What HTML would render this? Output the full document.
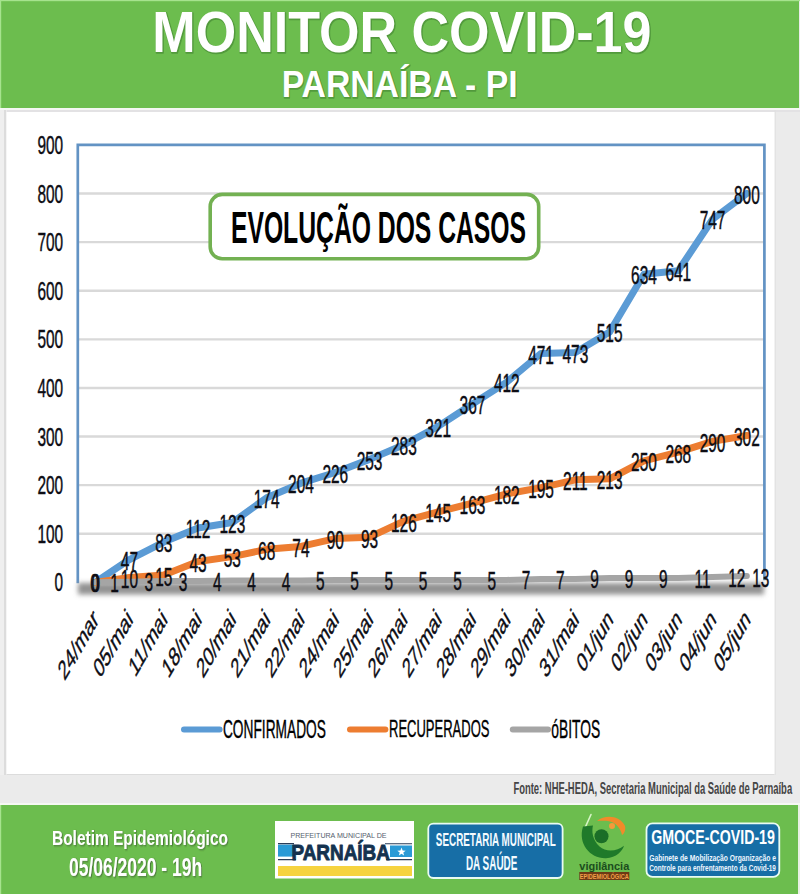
<!DOCTYPE html>
<html><head><meta charset="utf-8"><title>Monitor COVID-19 Parnaíba</title>
<style>
html,body{margin:0;padding:0;background:#ebebeb;}
body{width:800px;height:894px;overflow:hidden;position:relative;font-family:"Liberation Sans",sans-serif;}
svg{position:absolute;left:0;top:0;display:block;}
</style></head><body>
<svg width="800" height="894" viewBox="0 0 800 894" font-family="'Liberation Sans', sans-serif">
<defs>
 <filter id="hs" x="-5%" y="-20%" width="110%" height="140%"><feMorphology in="SourceAlpha" operator="dilate" radius="0.8"/><feOffset dx="0.6" dy="0.6"/><feGaussianBlur stdDeviation="0.5"/><feComponentTransfer><feFuncA type="linear" slope="0.6"/></feComponentTransfer><feFlood flood-color="#2f6a22"/><feComposite operator="in" in2="SourceAlpha"/></filter>
 <filter id="fs" x="-5%" y="-20%" width="110%" height="140%"><feGaussianBlur in="SourceAlpha" stdDeviation="0.8"/><feOffset dx="1" dy="1.2" result="b"/><feFlood flood-color="#3c5a30" flood-opacity="0.7"/><feComposite in2="b" operator="in"/><feMerge><feMergeNode/><feMergeNode in="SourceGraphic"/></feMerge></filter>
 <filter id="blur2" x="-5%" y="-100%" width="110%" height="300%"><feGaussianBlur stdDeviation="2.9"/></filter>
</defs>
<rect width="800" height="894" fill="#ebebeb"/>
<!-- header -->
<rect x="0" y="0" width="799" height="108" fill="#6cbd4e"/>
<rect x="0" y="0" width="800" height="1.2" fill="#a6e38e"/>
<rect x="0" y="0" width="1.2" height="108" fill="#a6e38e"/>
<rect x="0" y="108" width="800" height="2" fill="#f4f7f2"/>
<rect x="1.5" y="110" width="798.5" height="2" fill="#e3e2e4"/>
<rect x="0" y="110" width="7" height="665" fill="#efefef"/>
<rect x="4" y="110" width="2.2" height="665" fill="#dcdcdc"/>
<rect x="774.5" y="110" width="1.2" height="665" fill="#e0e0e0"/>
<!-- panel -->
<rect x="6.5" y="112" width="768" height="662.5" fill="#fff"/>
<rect x="6.5" y="774" width="768" height="1" fill="#dcdcdc"/>
<g transform="translate(0.7,0.8)"><text transform="translate(152.35,52.25) scale(0.9067,1)" font-size="57.39" font-weight="bold" fill="#3f7f30" stroke="#3f7f30" stroke-width="1.6" stroke-linejoin="round" opacity="0.55">MONITOR COVID-19</text></g>
<text transform="translate(152.35,52.25) scale(0.9067,1)" font-size="57.39" font-weight="bold" fill="#fff">MONITOR COVID-19</text>
<g transform="translate(0.7,0.8)"><text transform="translate(281.64,97.25) scale(0.9031,1)" font-size="37.33" font-weight="bold" fill="#3f7f30" stroke="#3f7f30" stroke-width="1.6" stroke-linejoin="round" opacity="0.55">PARNAÍBA - PI</text></g>
<text transform="translate(281.64,97.25) scale(0.9031,1)" font-size="37.33" font-weight="bold" fill="#fff">PARNAÍBA - PI</text>
<line x1="78.0" x2="764.0" y1="533.75" y2="533.75" stroke="#d9d9d9" stroke-width="2.4"/>
<line x1="78.0" x2="764.0" y1="485.15" y2="485.15" stroke="#d9d9d9" stroke-width="2.4"/>
<line x1="78.0" x2="764.0" y1="436.54" y2="436.54" stroke="#d9d9d9" stroke-width="2.4"/>
<line x1="78.0" x2="764.0" y1="387.93" y2="387.93" stroke="#d9d9d9" stroke-width="2.4"/>
<line x1="78.0" x2="764.0" y1="339.33" y2="339.33" stroke="#d9d9d9" stroke-width="2.4"/>
<line x1="78.0" x2="764.0" y1="290.72" y2="290.72" stroke="#d9d9d9" stroke-width="2.4"/>
<line x1="78.0" x2="764.0" y1="242.11" y2="242.11" stroke="#d9d9d9" stroke-width="2.4"/>
<line x1="78.0" x2="764.0" y1="193.50" y2="193.50" stroke="#d9d9d9" stroke-width="2.4"/>
<path d="M77.8,583.36 V144.90 H764.4 V580.36" fill="none" stroke="#6393c4" stroke-width="2.7"/>
<rect x="210.2" y="194.4" width="328.5" height="64.3" rx="12" fill="#fff" stroke="#73b152" stroke-width="3.6"/>
<text transform="translate(230.96,242.50) scale(0.5641,1)" font-size="43.80" font-weight="bold" fill="#000" >EVOLUÇÃO DOS CASOS</text>
<rect x="78.0" y="583" width="686.0" height="11.5" fill="#929292" filter="url(#blur2)"/>
<polyline points="95.15,582.36 129.45,559.51 163.75,542.02 198.05,527.92 232.35,522.57 266.65,497.78 300.95,483.20 335.25,472.51 369.55,459.38 403.85,444.80 438.15,426.33 472.45,403.97 506.75,382.10 541.05,353.42 575.35,352.45 609.65,332.03 643.95,274.19 678.25,270.79 712.55,219.27 746.85,193.50" fill="none" stroke="#5b9bd5" stroke-width="7" stroke-linejoin="round" stroke-linecap="round"/>
<polyline points="95.15,582.36 129.45,577.50 163.75,575.07 198.05,561.46 232.35,556.60 266.65,549.31 300.95,546.39 335.25,538.61 369.55,537.16 403.85,521.12 438.15,511.88 472.45,503.13 506.75,493.90 541.05,487.58 575.35,479.80 609.65,478.83 643.95,460.84 678.25,452.09 712.55,441.40 746.85,435.57" fill="none" stroke="#ed7d31" stroke-width="7" stroke-linejoin="round" stroke-linecap="round"/>
<polyline points="95.15,582.36 129.45,581.87 163.75,580.90 198.05,580.90 232.35,580.42 266.65,580.42 300.95,580.42 335.25,579.93 369.55,579.93 403.85,579.93 438.15,579.93 472.45,579.93 506.75,579.93 541.05,578.96 575.35,578.96 609.65,577.99 643.95,577.99 678.25,577.99 712.55,577.01 746.85,576.04" fill="none" stroke="#a5a5a5" stroke-width="6" stroke-linejoin="round" stroke-linecap="round"/>
<g font-family="'Liberation Sans', sans-serif" font-size="26.60" fill="#0d0d14" stroke="#0d0d14" stroke-width="0.45">
<text transform="translate(63.20,591.36) scale(0.58,1)" text-anchor="end">0</text>
<text transform="translate(63.20,542.75) scale(0.58,1)" text-anchor="end">100</text>
<text transform="translate(63.20,494.15) scale(0.58,1)" text-anchor="end">200</text>
<text transform="translate(63.20,445.54) scale(0.58,1)" text-anchor="end">300</text>
<text transform="translate(63.20,396.93) scale(0.58,1)" text-anchor="end">400</text>
<text transform="translate(63.20,348.33) scale(0.58,1)" text-anchor="end">500</text>
<text transform="translate(63.20,299.72) scale(0.58,1)" text-anchor="end">600</text>
<text transform="translate(63.20,251.11) scale(0.58,1)" text-anchor="end">700</text>
<text transform="translate(63.20,202.50) scale(0.58,1)" text-anchor="end">800</text>
<text transform="translate(63.20,153.90) scale(0.58,1)" text-anchor="end">900</text>
<text transform="translate(129.45,569.71) scale(0.58,1)" text-anchor="middle">47</text>
<text transform="translate(163.75,552.22) scale(0.58,1)" text-anchor="middle">83</text>
<text transform="translate(198.05,538.12) scale(0.58,1)" text-anchor="middle">112</text>
<text transform="translate(232.35,532.77) scale(0.58,1)" text-anchor="middle">123</text>
<text transform="translate(266.65,507.98) scale(0.58,1)" text-anchor="middle">174</text>
<text transform="translate(300.95,493.40) scale(0.58,1)" text-anchor="middle">204</text>
<text transform="translate(335.25,482.71) scale(0.58,1)" text-anchor="middle">226</text>
<text transform="translate(369.55,469.58) scale(0.58,1)" text-anchor="middle">253</text>
<text transform="translate(403.85,455.00) scale(0.58,1)" text-anchor="middle">283</text>
<text transform="translate(438.15,436.53) scale(0.58,1)" text-anchor="middle">321</text>
<text transform="translate(472.45,414.17) scale(0.58,1)" text-anchor="middle">367</text>
<text transform="translate(506.75,392.30) scale(0.58,1)" text-anchor="middle">412</text>
<text transform="translate(541.05,363.62) scale(0.58,1)" text-anchor="middle">471</text>
<text transform="translate(575.35,362.65) scale(0.58,1)" text-anchor="middle">473</text>
<text transform="translate(609.65,342.23) scale(0.58,1)" text-anchor="middle">515</text>
<text transform="translate(643.95,284.39) scale(0.58,1)" text-anchor="middle">634</text>
<text transform="translate(678.25,280.99) scale(0.58,1)" text-anchor="middle">641</text>
<text transform="translate(712.55,229.47) scale(0.58,1)" text-anchor="middle">747</text>
<text transform="translate(746.85,203.70) scale(0.58,1)" text-anchor="middle">800</text>
<text transform="translate(129.45,588.00) scale(0.58,1)" text-anchor="middle">10</text>
<text transform="translate(163.75,585.57) scale(0.58,1)" text-anchor="middle">15</text>
<text transform="translate(198.05,571.96) scale(0.58,1)" text-anchor="middle">43</text>
<text transform="translate(232.35,567.10) scale(0.58,1)" text-anchor="middle">53</text>
<text transform="translate(266.65,559.81) scale(0.58,1)" text-anchor="middle">68</text>
<text transform="translate(300.95,556.89) scale(0.58,1)" text-anchor="middle">74</text>
<text transform="translate(335.25,549.11) scale(0.58,1)" text-anchor="middle">90</text>
<text transform="translate(369.55,547.66) scale(0.58,1)" text-anchor="middle">93</text>
<text transform="translate(403.85,531.62) scale(0.58,1)" text-anchor="middle">126</text>
<text transform="translate(438.15,522.38) scale(0.58,1)" text-anchor="middle">145</text>
<text transform="translate(472.45,513.63) scale(0.58,1)" text-anchor="middle">163</text>
<text transform="translate(506.75,504.40) scale(0.58,1)" text-anchor="middle">182</text>
<text transform="translate(541.05,498.08) scale(0.58,1)" text-anchor="middle">195</text>
<text transform="translate(575.35,490.30) scale(0.58,1)" text-anchor="middle">211</text>
<text transform="translate(609.65,489.33) scale(0.58,1)" text-anchor="middle">213</text>
<text transform="translate(643.95,471.34) scale(0.58,1)" text-anchor="middle">250</text>
<text transform="translate(678.25,462.59) scale(0.58,1)" text-anchor="middle">268</text>
<text transform="translate(712.55,451.90) scale(0.58,1)" text-anchor="middle">290</text>
<text transform="translate(746.85,446.07) scale(0.58,1)" text-anchor="middle">302</text>
<text transform="translate(114.45,592.37) scale(0.58,1)" text-anchor="middle">1</text>
<text transform="translate(148.75,591.40) scale(0.58,1)" text-anchor="middle">3</text>
<text transform="translate(183.05,591.40) scale(0.58,1)" text-anchor="middle">3</text>
<text transform="translate(217.35,590.92) scale(0.58,1)" text-anchor="middle">4</text>
<text transform="translate(251.65,590.92) scale(0.58,1)" text-anchor="middle">4</text>
<text transform="translate(285.95,590.92) scale(0.58,1)" text-anchor="middle">4</text>
<text transform="translate(320.25,590.43) scale(0.58,1)" text-anchor="middle">5</text>
<text transform="translate(354.55,590.43) scale(0.58,1)" text-anchor="middle">5</text>
<text transform="translate(388.85,590.43) scale(0.58,1)" text-anchor="middle">5</text>
<text transform="translate(423.15,590.43) scale(0.58,1)" text-anchor="middle">5</text>
<text transform="translate(457.45,590.43) scale(0.58,1)" text-anchor="middle">5</text>
<text transform="translate(491.75,590.43) scale(0.58,1)" text-anchor="middle">5</text>
<text transform="translate(526.05,589.46) scale(0.58,1)" text-anchor="middle">7</text>
<text transform="translate(560.35,589.46) scale(0.58,1)" text-anchor="middle">7</text>
<text transform="translate(594.65,588.49) scale(0.58,1)" text-anchor="middle">9</text>
<text transform="translate(628.95,588.49) scale(0.58,1)" text-anchor="middle">9</text>
<text transform="translate(663.25,588.49) scale(0.58,1)" text-anchor="middle">9</text>
<text transform="translate(702.55,587.51) scale(0.58,1)" text-anchor="middle">11</text>
<text transform="translate(736.85,587.03) scale(0.58,1)" text-anchor="middle">12</text>
<text transform="translate(760.85,586.54) scale(0.58,1)" text-anchor="middle">13</text>
<text transform="translate(94.55,591.86) scale(0.58,1)" text-anchor="middle">0</text>
<text transform="translate(95.75,591.86) scale(0.58,1)" text-anchor="middle">0</text>
<text class="xl" font-size="27.5" transform="translate(99.55,621.00) scale(0.58,1) rotate(-45)" text-anchor="end">24/mar</text>
<text class="xl" font-size="27.5" transform="translate(133.85,621.00) scale(0.58,1) rotate(-45)" text-anchor="end">05/mai</text>
<text class="xl" font-size="27.5" transform="translate(168.15,621.00) scale(0.58,1) rotate(-45)" text-anchor="end">11/mai</text>
<text class="xl" font-size="27.5" transform="translate(202.45,621.00) scale(0.58,1) rotate(-45)" text-anchor="end">18/mai</text>
<text class="xl" font-size="27.5" transform="translate(236.75,621.00) scale(0.58,1) rotate(-45)" text-anchor="end">20/mai</text>
<text class="xl" font-size="27.5" transform="translate(271.05,621.00) scale(0.58,1) rotate(-45)" text-anchor="end">21/mai</text>
<text class="xl" font-size="27.5" transform="translate(305.35,621.00) scale(0.58,1) rotate(-45)" text-anchor="end">22/mai</text>
<text class="xl" font-size="27.5" transform="translate(339.65,621.00) scale(0.58,1) rotate(-45)" text-anchor="end">24/mai</text>
<text class="xl" font-size="27.5" transform="translate(373.95,621.00) scale(0.58,1) rotate(-45)" text-anchor="end">25/mai</text>
<text class="xl" font-size="27.5" transform="translate(408.25,621.00) scale(0.58,1) rotate(-45)" text-anchor="end">26/mai</text>
<text class="xl" font-size="27.5" transform="translate(442.55,621.00) scale(0.58,1) rotate(-45)" text-anchor="end">27/mai</text>
<text class="xl" font-size="27.5" transform="translate(476.85,621.00) scale(0.58,1) rotate(-45)" text-anchor="end">28/mai</text>
<text class="xl" font-size="27.5" transform="translate(511.15,621.00) scale(0.58,1) rotate(-45)" text-anchor="end">29/mai</text>
<text class="xl" font-size="27.5" transform="translate(545.45,621.00) scale(0.58,1) rotate(-45)" text-anchor="end">30/mai</text>
<text class="xl" font-size="27.5" transform="translate(579.75,621.00) scale(0.58,1) rotate(-45)" text-anchor="end">31/mai</text>
<text class="xl" font-size="27.5" transform="translate(614.05,621.00) scale(0.58,1) rotate(-45)" text-anchor="end">01/jun</text>
<text class="xl" font-size="27.5" transform="translate(648.35,621.00) scale(0.58,1) rotate(-45)" text-anchor="end">02/jun</text>
<text class="xl" font-size="27.5" transform="translate(682.65,621.00) scale(0.58,1) rotate(-45)" text-anchor="end">03/jun</text>
<text class="xl" font-size="27.5" transform="translate(716.95,621.00) scale(0.58,1) rotate(-45)" text-anchor="end">04/jun</text>
<text class="xl" font-size="27.5" transform="translate(751.25,621.00) scale(0.58,1) rotate(-45)" text-anchor="end">05/jun</text>
</g>
<line x1="184" x2="219.6" y1="729.4" y2="729.4" stroke="#5b9bd5" stroke-width="6" stroke-linecap="round"/>
<line x1="350" x2="385.4" y1="729.4" y2="729.4" stroke="#ed7d31" stroke-width="6" stroke-linecap="round"/>
<line x1="512.8" x2="548" y1="729.5" y2="729.5" stroke="#a5a5a5" stroke-width="6" stroke-linecap="round"/>
<text transform="translate(222.96,737.60) scale(0.5488,1)" font-size="25.03" font-weight="normal" fill="#000" stroke="#000" stroke-width="0.4">CONFIRMADOS</text>
<text transform="translate(388.98,737.40) scale(0.5261,1)" font-size="24.75" font-weight="normal" fill="#000" stroke="#000" stroke-width="0.4">RECUPERADOS</text>
<text transform="translate(551.32,738.20) scale(0.5411,1)" font-size="25.60" font-weight="normal" fill="#000" stroke="#000" stroke-width="0.4">óBITOS</text>
<text transform="translate(513.41,794.00) scale(0.5822,1)" font-size="16.21" font-weight="bold" fill="#454545" >Fonte: NHE-HEDA, Secretaria Municipal da Saúde de Parnaíba</text>
<!-- footer -->
<rect x="0" y="803" width="800" height="2.2" fill="#f5f8f3"/>
<rect x="0" y="805" width="798" height="89" fill="#6cbd4e"/>
<rect x="0" y="805" width="1.2" height="89" fill="#a6e38e"/>
<rect x="798" y="805" width="2" height="89" fill="#e8f0e4"/>
<text transform="translate(52.03,844.50) scale(0.7760,1)" font-size="19.91" font-weight="bold" fill="#fff" filter="url(#fs)">Boletim Epidemiológico</text>
<text transform="translate(68.95,876.25) scale(0.7023,1)" font-size="24.89" font-weight="bold" fill="#fff" filter="url(#fs)">05/06/2020 - 19h</text>
<rect x="275" y="821" width="139" height="57.5" fill="#fff"/>
<text transform="translate(290.45,837.80) scale(0.9413,1)" font-size="7.54" font-weight="normal" fill="#55606e" >PREFEITURA MUNICIPAL DE</text>
<rect x="278" y="844.6" width="16" height="12" fill="#2a9ad6"/>
<rect x="390" y="845.5" width="22" height="11.5" fill="#2a9ad6"/>
<path d="M278,843.6 H294 M385,843.7 H412 M278,859.6 H296 M386,859.6 H412" stroke="#2a3d58" stroke-width="1.1"/>
<polygon points="401.5,847.6 402.6,850.6 405.7,850.7 403.3,852.6 404.1,855.6 401.5,853.8 398.9,855.6 399.7,852.6 397.3,850.7 400.4,850.6" fill="#fff"/>
<text transform="translate(291.42,860.10) scale(0.8481,1)" font-size="22.33" font-weight="bold" fill="#14324f" stroke="#14324f" stroke-width="0.9" stroke-linejoin="round">PARNAÍBA</text>
<rect x="278" y="866" width="134" height="10" fill="#f6d33f"/>
<rect x="428.3" y="823.7" width="134.3" height="54.3" rx="5" fill="#176ea6" stroke="#e9fbf2" stroke-width="1.8"/>
<text transform="translate(435.85,846.00) scale(0.5260,1)" font-size="18.77" font-weight="bold" fill="#f4fbff" >SECRETARIA MUNICIPAL</text>
<text transform="translate(465.88,870.30) scale(0.5099,1)" font-size="19.48" font-weight="bold" fill="#f4fbff" >DA SAÚDE</text>
<g>
 <path d="M591,814.5 L584,830" stroke="#d8f5c8" stroke-width="1.6" stroke-linecap="round"/>
 <path d="M583,826.5 C577.5,844 590.5,858.8 606,858.2 C616.5,857.7 622.5,851 624,845.8 C617,851.5 606,852.5 599.5,846.5 C592.5,840 591.5,831.5 593,825.5 Z" fill="#1f7a2a"/>
 <circle cx="601.5" cy="836.2" r="7" fill="#1b6e27"/>
 <path d="M597,821 C606,814 620,816 625,826 C626,830 624,834 622,835 C621,829 616,822 608,821 C604,820.5 600,821 597,821 Z" fill="#f28a2a"/>
 <circle cx="612" cy="826" r="3" fill="#f59a3a"/>
 <text transform="translate(579.3,869.6) scale(1.02,1)" font-size="10.5" font-weight="bold" fill="#1b4d1d" textLength="49" lengthAdjust="spacingAndGlyphs">vigilância</text>
 <rect x="579.3" y="872" width="50" height="8" fill="#6e3a14"/>
 <text x="579.8" y="879.3" font-size="8" font-weight="bold" fill="#f3a24a" textLength="49" lengthAdjust="spacingAndGlyphs">EPIDEMIOLÓGICA</text>
</g>
<rect x="646.5" y="823.4" width="132.8" height="53.5" rx="6" fill="#176ea6" stroke="#e9fbf2" stroke-width="1.8"/>
<text transform="translate(651.16,844.40) scale(0.6930,1)" font-size="20.48" font-weight="bold" fill="#fff" >GMOCE-COVID-19</text>
<text transform="translate(649.19,861.00) scale(0.7922,1)" font-size="8.53" font-weight="bold" fill="#eef6ff" >Gabinete de Mobilização Organização e</text>
<text transform="translate(649.20,871.25) scale(0.6929,1)" font-size="9.32" font-weight="bold" fill="#eef6ff" >Controle para enfrentamento da Covid-19</text>
</svg>
</body></html>
